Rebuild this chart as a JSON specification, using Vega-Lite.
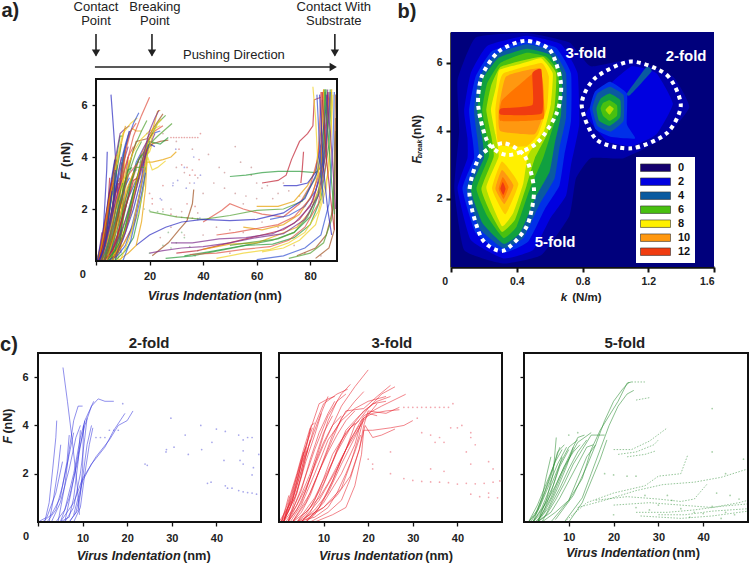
{"$schema":"https://vega.github.io/schema/vega-lite/v6.json","autosize":"none","padding":{"left":38,"top":0,"right":712,"bottom":564},"columns":3,"align":"each","bounds":"flush","spacing":0,"background":"white","resolve":{"scale":{"color":"independent"},"legend":{"color":"independent"}},
"config":{"view":{"stroke":null},"text":{"font":"Liberation Sans","color":"#222"},"axis":{"labelFont":"Liberation Sans","labelFontWeight":"bold","labelColor":"#222","labelFontSize":11,"grid":false,"domain":false,"tickColor":"#111","tickSize":4,"tickWidth":1.3,"labelPadding":4}},
"datasets":{
"d2":[{"c":"t1","x":5.6,"y":6.4},{"c":"t1","x":6.6,"y":5},{"c":"t1","x":7.6,"y":3.5},{"c":"t1","x":8.8,"y":1.5},{"c":"t1","x":9.3,"y":0.3},
{"c":"t2","x":1.5,"y":0},{"c":"t2","x":2.5,"y":0.8},{"c":"t2","x":3.3,"y":2.2},{"c":"t2","x":4,"y":3.5},{"c":"t2","x":4.2,"y":4.2},
{"c":"t3","x":2.5,"y":0},{"c":"t3","x":3.5,"y":1},{"c":"t3","x":4.5,"y":2.2},{"c":"t3","x":5.1,"y":3.2},
{"c":"t4","x":4.5,"y":0},{"c":"t4","x":6,"y":1.5},{"c":"t4","x":7,"y":3},{"c":"t4","x":8,"y":4.2},{"c":"t4","x":9,"y":4.8},{"c":"t4","x":10,"y":4.8},
{"c":"t5","x":6,"y":0},{"c":"t5","x":7.5,"y":1.3},{"c":"t5","x":9,"y":2.8},{"c":"t5","x":10.5,"y":4},{"c":"t5","x":12,"y":4.8},{"c":"t5","x":13.5,"y":5.1},{"c":"t5","x":15,"y":5},{"c":"t5","x":17,"y":5},
{"c":"t6","x":5,"y":0},{"c":"t6","x":7,"y":1},{"c":"t6","x":9,"y":2.6},{"c":"t6","x":10.5,"y":4.2},{"c":"t6","x":12.5,"y":5},
{"c":"t7","x":5,"y":0},{"c":"t7","x":8,"y":0.8},{"c":"t7","x":10,"y":1.8},{"c":"t7","x":13,"y":2.7},{"c":"t7","x":16,"y":3.4},{"c":"t7","x":18,"y":4},{"c":"t7","x":20,"y":4.2},{"c":"t7","x":21.3,"y":4.6},
{"c":"t8","x":8,"y":0.3},{"c":"t8","x":10,"y":1.7},{"c":"t8","x":12,"y":2.4},{"c":"t8","x":15,"y":3.1},{"c":"t8","x":17,"y":3.8},{"c":"t8","x":19.5,"y":4.5},
{"c":"t9","x":1,"y":0},{"c":"t9","x":3,"y":0.3},{"c":"t9","x":5,"y":1},{"c":"t9","x":6.5,"y":2.5},{"c":"t9","x":7,"y":3.6},
{"c":"t10","x":3,"y":0},{"c":"t10","x":5,"y":0.8},{"c":"t10","x":7,"y":2.2},{"c":"t10","x":8.5,"y":3.5},{"c":"t10","x":9.5,"y":4},
{"c":"t11","x":4,"y":0},{"c":"t11","x":6,"y":0.5},{"c":"t11","x":8,"y":2},{"c":"t11","x":9.5,"y":3.5},{"c":"t11","x":10.5,"y":4.2},
{"c":"t12","x":6,"y":0},{"c":"t12","x":8,"y":0.6},{"c":"t12","x":9.5,"y":2},{"c":"t12","x":10.5,"y":3.5},{"c":"t12","x":11,"y":4.3},
{"c":"t13","x":7,"y":0},{"c":"t13","x":9,"y":0.5},{"c":"t13","x":10,"y":1.8},{"c":"t13","x":11,"y":3.2},{"c":"t13","x":12,"y":4},
{"c":"t14","x":8,"y":0},{"c":"t14","x":9.5,"y":0.6},{"c":"t14","x":10.5,"y":2},{"c":"t14","x":11.5,"y":3.2},{"c":"t14","x":12.3,"y":3.9},
{"c":"t15","x":2,"y":0},{"c":"t15","x":4,"y":0.5},{"c":"t15","x":5.5,"y":1.5},{"c":"t15","x":7,"y":2.8},{"c":"t15","x":8,"y":3.7},
{"c":"t16","x":0,"y":0},{"c":"t16","x":2,"y":0.2},{"c":"t16","x":4,"y":1.2},{"c":"t16","x":5.5,"y":2.5},
{"c":"t17","x":7,"y":0},{"c":"t17","x":8.5,"y":0.4},{"c":"t17","x":9.5,"y":1.2},{"c":"t17","x":10,"y":2.2},{"c":"t17","x":10.2,"y":4},
{"c":"t18","x":5,"y":0},{"c":"t18","x":7,"y":0.2},{"c":"t18","x":8,"y":1},{"c":"t18","x":9,"y":2.5},{"c":"t18","x":9.5,"y":3.8}],
"d3":[{"c":"s1","x":0,"y":0},{"c":"s1","x":3,"y":0.9},{"c":"s1","x":5,"y":2.1},{"c":"s1","x":6.5,"y":3.4},{"c":"s1","x":7.2,"y":4},{"c":"s1","x":8,"y":4.1},
{"c":"s2","x":0.5,"y":0},{"c":"s2","x":1.5,"y":0.6},{"c":"s2","x":2.2,"y":1.1},
{"c":"s3","x":0.5,"y":0},{"c":"s3","x":3,"y":1},{"c":"s3","x":4.5,"y":2},{"c":"s3","x":5.5,"y":2.9},
{"c":"s4","x":1,"y":0},{"c":"s4","x":3,"y":0.9},{"c":"s4","x":5,"y":2.4},{"c":"s4","x":7,"y":3.8},{"c":"s4","x":9,"y":4.9},{"c":"s4","x":11,"y":5.1},{"c":"s4","x":12.5,"y":5.2},
{"c":"s5","x":1,"y":0},{"c":"s5","x":4,"y":1.2},{"c":"s5","x":6,"y":2.7},{"c":"s5","x":8,"y":4},{"c":"s5","x":10,"y":4.9},{"c":"s5","x":13,"y":5.3},{"c":"s5","x":15.4,"y":5.5},
{"c":"s6","x":2,"y":0},{"c":"s6","x":5,"y":1.4},{"c":"s6","x":8,"y":3},{"c":"s6","x":11,"y":4.4},{"c":"s6","x":14,"y":5.3},{"c":"s6","x":16,"y":5.7},
{"c":"s7","x":2,"y":0},{"c":"s7","x":6,"y":1.4},{"c":"s7","x":10,"y":3.2},{"c":"s7","x":14,"y":4.8},{"c":"s7","x":17,"y":5.6},{"c":"s7","x":20,"y":6.3},
{"c":"s8","x":3,"y":0},{"c":"s8","x":7,"y":1.2},{"c":"s8","x":11,"y":3},{"c":"s8","x":14,"y":4.3},{"c":"s8","x":17,"y":5},{"c":"s8","x":19,"y":5.4},
{"c":"s9","x":3,"y":0},{"c":"s9","x":6,"y":0.8},{"c":"s9","x":9,"y":2.1},{"c":"s9","x":12,"y":3.6},{"c":"s9","x":15,"y":4.6},{"c":"s9","x":19,"y":4.7},{"c":"s9","x":22,"y":5.2},{"c":"s9","x":25,"y":5.66},
{"c":"s10","x":1.5,"y":0},{"c":"s10","x":4,"y":0.7},{"c":"s10","x":7,"y":2},{"c":"s10","x":10,"y":3.7},{"c":"s10","x":12,"y":4.4},
{"c":"s11","x":2.5,"y":0},{"c":"s11","x":5,"y":0.7},{"c":"s11","x":8,"y":2},{"c":"s11","x":11,"y":3.4},{"c":"s11","x":14,"y":4.2},{"c":"s11","x":17,"y":4.7},{"c":"s11","x":20,"y":5},{"c":"s11","x":24,"y":5.2},
{"c":"s12","x":4,"y":0},{"c":"s12","x":8,"y":1},{"c":"s12","x":12,"y":2.5},{"c":"s12","x":15,"y":3.8},{"c":"s12","x":18,"y":4.4},{"c":"s12","x":21,"y":4.9},{"c":"s12","x":24,"y":5},
{"c":"s13","x":4,"y":0},{"c":"s13","x":7,"y":0.6},{"c":"s13","x":10,"y":1.6},{"c":"s13","x":13,"y":2.9},{"c":"s13","x":16,"y":3.9},{"c":"s13","x":19,"y":4.6},{"c":"s13","x":22,"y":5},{"c":"s13","x":25,"y":5.2},
{"c":"s14","x":5,"y":0},{"c":"s14","x":9,"y":0.9},{"c":"s14","x":13,"y":2.2},{"c":"s14","x":16,"y":3.4},{"c":"s14","x":19,"y":4.4},{"c":"s14","x":23,"y":4.8},{"c":"s14","x":28.4,"y":5.29},
{"c":"s15","x":5,"y":0},{"c":"s15","x":8,"y":0.5},{"c":"s15","x":11,"y":1.2},{"c":"s15","x":14,"y":2.4},{"c":"s15","x":17,"y":3.5},{"c":"s15","x":19,"y":4.3},{"c":"s15","x":21,"y":4.5},{"c":"s15","x":24,"y":4.6},{"c":"s15","x":27,"y":4.65},
{"c":"s16","x":6,"y":0},{"c":"s16","x":10,"y":0.8},{"c":"s16","x":14,"y":2},{"c":"s16","x":17,"y":3.2},{"c":"s16","x":18.5,"y":4.2},{"c":"s16","x":20,"y":4.5},{"c":"s16","x":22,"y":4.4},
{"c":"s17","x":6,"y":0.1},{"c":"s17","x":10,"y":0.6},{"c":"s17","x":14,"y":1.4},{"c":"s17","x":16,"y":2.4},{"c":"s17","x":18,"y":3.6},{"c":"s17","x":19,"y":4.3},
{"c":"s18","x":7,"y":0},{"c":"s18","x":11,"y":0.4},{"c":"s18","x":14,"y":0.9},{"c":"s18","x":16,"y":1.8},{"c":"s18","x":18,"y":3},{"c":"s18","x":19,"y":4},{"c":"s18","x":20,"y":4.6},{"c":"s18","x":24,"y":4.5},{"c":"s18","x":27,"y":4.75},
{"c":"s19","x":8,"y":0},{"c":"s19","x":12,"y":0.3},{"c":"s19","x":15,"y":0.6},{"c":"s19","x":17,"y":1.5},{"c":"s19","x":18.5,"y":2.8},{"c":"s19","x":19,"y":3.8},{"c":"s19","x":21,"y":3.8},{"c":"s19","x":25,"y":3.9},{"c":"s19","x":28,"y":4},{"c":"s19","x":30,"y":4.2},
{"c":"s20","x":4,"y":0},{"c":"s20","x":7,"y":0.3},{"c":"s20","x":10,"y":0.6},{"c":"s20","x":13,"y":1.1},{"c":"s20","x":16,"y":1.9},{"c":"s20","x":18,"y":3},{"c":"s20","x":19.3,"y":4},{"c":"s20","x":21,"y":3.5},{"c":"s20","x":23,"y":3.6},{"c":"s20","x":26,"y":3.85},
{"c":"s21","x":1,"y":0},{"c":"s21","x":3,"y":0.5},{"c":"s21","x":5,"y":1.3},{"c":"s21","x":7,"y":2.6},{"c":"s21","x":9,"y":3.7},{"c":"s21","x":11,"y":4.5},{"c":"s21","x":12.5,"y":5},
{"c":"s22","x":2,"y":0},{"c":"s22","x":4,"y":0.5},{"c":"s22","x":6,"y":1.3},{"c":"s22","x":8,"y":2.4},{"c":"s22","x":10,"y":3.3},{"c":"s22","x":12,"y":4},{"c":"s22","x":14,"y":4.4},
{"c":"s23","x":3,"y":0},{"c":"s23","x":5,"y":0.4},{"c":"s23","x":7,"y":1.1},{"c":"s23","x":9,"y":2.1},{"c":"s23","x":11,"y":2.9},{"c":"s23","x":13,"y":3.6},{"c":"s23","x":15,"y":4.2},{"c":"s23","x":17,"y":4.6},
{"c":"s24","x":4,"y":0},{"c":"s24","x":6,"y":0.3},{"c":"s24","x":8,"y":0.9},{"c":"s24","x":10,"y":1.8},{"c":"s24","x":12,"y":2.8},{"c":"s24","x":14,"y":3.4},{"c":"s24","x":16,"y":3.9},{"c":"s24","x":18,"y":4.2},
{"c":"s25","x":0.5,"y":0},{"c":"s25","x":2,"y":0.4},{"c":"s25","x":3.5,"y":1},{"c":"s25","x":5,"y":1.9},{"c":"s25","x":6,"y":2.7},{"c":"s25","x":7,"y":3.4},
{"c":"s26","x":1,"y":0},{"c":"s26","x":2.5,"y":0.6},{"c":"s26","x":4,"y":1.5},{"c":"s26","x":5.5,"y":2.5},{"c":"s26","x":6.5,"y":3},
{"c":"s27","x":5,"y":0},{"c":"s27","x":7,"y":0.4},{"c":"s27","x":9,"y":1.1},{"c":"s27","x":11,"y":2},{"c":"s27","x":13,"y":3},{"c":"s27","x":15,"y":3.7},{"c":"s27","x":17,"y":4.1},
{"c":"s28","x":6,"y":0},{"c":"s28","x":8,"y":0.3},{"c":"s28","x":10,"y":0.9},{"c":"s28","x":12,"y":1.7},{"c":"s28","x":14,"y":2.6},{"c":"s28","x":16,"y":3.4},{"c":"s28","x":18,"y":4},
{"c":"s29","x":3,"y":0},{"c":"s29","x":6,"y":0.4},{"c":"s29","x":9,"y":1},{"c":"s29","x":11,"y":1.6},{"c":"s29","x":13,"y":2.3},{"c":"s29","x":15,"y":3},{"c":"s29","x":17,"y":3.6},{"c":"s29","x":19,"y":4.2},{"c":"s29","x":22,"y":4.9},
{"c":"s30","x":4,"y":0},{"c":"s30","x":8,"y":0.2},{"c":"s30","x":11,"y":0.6},{"c":"s30","x":13,"y":1.2},{"c":"s30","x":15,"y":2},{"c":"s30","x":17,"y":2.9},{"c":"s30","x":18.3,"y":3.6},
{"c":"s31","x":2,"y":0},{"c":"s31","x":5,"y":0.8},{"c":"s31","x":7,"y":1.8},{"c":"s31","x":9,"y":3},{"c":"s31","x":11,"y":4.2},{"c":"s31","x":13,"y":5},{"c":"s31","x":15,"y":5.3},
{"c":"s32","x":6,"y":0},{"c":"s32","x":9,"y":0.6},{"c":"s32","x":12,"y":1.7},{"c":"s32","x":15,"y":3},{"c":"s32","x":17,"y":4},{"c":"s32","x":20,"y":4.7},{"c":"s32","x":23,"y":5.3},{"c":"s32","x":26,"y":5.6},
{"c":"s33","x":1,"y":0},{"c":"s33","x":3,"y":1.2},{"c":"s33","x":5,"y":2.6},{"c":"s33","x":6.5,"y":3.4},{"c":"s33","x":7.5,"y":3.9},
{"c":"s34","x":0.5,"y":0},{"c":"s34","x":2,"y":0.8},{"c":"s34","x":4,"y":2},{"c":"s34","x":5.5,"y":3},{"c":"s34","x":7,"y":3.9},
{"c":"s35","x":1,"y":0},{"c":"s35","x":2.5,"y":1},{"c":"s35","x":4,"y":1.9},{"c":"s35","x":6,"y":3.1},
{"c":"s36","x":2,"y":0},{"c":"s36","x":4,"y":1.2},{"c":"s36","x":6,"y":2.5},{"c":"s36","x":8,"y":3.6},{"c":"s36","x":9.5,"y":4.5},
{"c":"s37","x":1,"y":0},{"c":"s37","x":3,"y":1.1},{"c":"s37","x":5,"y":2.4},{"c":"s37","x":7,"y":3.3},{"c":"s37","x":9,"y":4.3},{"c":"s37","x":11,"y":5.2}],
"d5":[{"c":"f1","x":3,"y":0},{"c":"f1","x":5,"y":0.9},{"c":"f1","x":6.5,"y":2},{"c":"f1","x":7.2,"y":3.5},
{"c":"f2","x":1,"y":0},{"c":"f2","x":3,"y":0.7},{"c":"f2","x":5,"y":1.6},{"c":"f2","x":7,"y":2.5},{"c":"f2","x":8.5,"y":3},
{"c":"f3","x":1.5,"y":0},{"c":"f3","x":3.5,"y":0.6},{"c":"f3","x":5.5,"y":1.5},{"c":"f3","x":7.5,"y":2.4},{"c":"f3","x":9.5,"y":3.1},
{"c":"f4","x":2,"y":0},{"c":"f4","x":4,"y":0.6},{"c":"f4","x":6,"y":1.5},{"c":"f4","x":8,"y":2.4},{"c":"f4","x":10,"y":3.1},{"c":"f4","x":12,"y":3.4},
{"c":"f5","x":2,"y":0},{"c":"f5","x":5,"y":0.8},{"c":"f5","x":7,"y":1.5},{"c":"f5","x":9,"y":2.3},{"c":"f5","x":11,"y":2.9},{"c":"f5","x":12.5,"y":3.2},
{"c":"f6","x":2.5,"y":0},{"c":"f6","x":4.5,"y":0.4},{"c":"f6","x":6.5,"y":1.1},{"c":"f6","x":8.5,"y":2},{"c":"f6","x":10.5,"y":2.8},{"c":"f6","x":12,"y":3.3},{"c":"f6","x":15,"y":3.7},
{"c":"f7","x":3,"y":0},{"c":"f7","x":5,"y":0.3},{"c":"f7","x":7,"y":0.9},{"c":"f7","x":9,"y":1.6},{"c":"f7","x":11,"y":2.4},{"c":"f7","x":13,"y":3},{"c":"f7","x":15,"y":3.6},{"c":"f7","x":18,"y":3.6},
{"c":"f8","x":3,"y":0},{"c":"f8","x":5.5,"y":0.6},{"c":"f8","x":7.5,"y":1.4},{"c":"f8","x":9.5,"y":2.3},{"c":"f8","x":11,"y":3.1},
{"c":"f9","x":1,"y":0},{"c":"f9","x":2.5,"y":0.3},{"c":"f9","x":4,"y":1},{"c":"f9","x":5,"y":1.9},{"c":"f9","x":6,"y":2.7},
{"c":"f10","x":3,"y":0},{"c":"f10","x":6,"y":0.4},{"c":"f10","x":8,"y":1},{"c":"f10","x":10,"y":1.7},{"c":"f10","x":12,"y":2.4},{"c":"f10","x":14,"y":3.1},{"c":"f10","x":15.5,"y":3.2},
{"c":"f11","x":4,"y":0},{"c":"f11","x":7,"y":0.4},{"c":"f11","x":10,"y":0.9},{"c":"f11","x":12,"y":1.8},{"c":"f11","x":14,"y":2.7},{"c":"f11","x":16,"y":3.2},
{"c":"f12","x":6,"y":0},{"c":"f12","x":10,"y":0.9},{"c":"f12","x":13,"y":1.8},{"c":"f12","x":15,"y":3},{"c":"f12","x":17,"y":3.8},{"c":"f12","x":19,"y":4.4},{"c":"f12","x":21,"y":5},{"c":"f12","x":23,"y":5.75},{"c":"f12","x":24,"y":5.8},
{"c":"f13","x":7,"y":0.1},{"c":"f13","x":11,"y":1.1},{"c":"f13","x":14,"y":2.3},{"c":"f13","x":16,"y":3.2},{"c":"f13","x":18,"y":4.2},{"c":"f13","x":20,"y":5},{"c":"f13","x":22,"y":5.5},{"c":"f13","x":23.5,"y":5.8},
{"c":"f14","x":9,"y":0},{"c":"f14","x":13,"y":1},{"c":"f14","x":15,"y":2},{"c":"f14","x":17,"y":3},{"c":"f14","x":19,"y":4},{"c":"f14","x":21,"y":4.8},{"c":"f14","x":23,"y":5.3},{"c":"f14","x":24.5,"y":5.45},
{"c":"f15","x":10,"y":0},{"c":"f15","x":13,"y":0.8},{"c":"f15","x":15,"y":1.7},{"c":"f15","x":17,"y":2.6},{"c":"f15","x":18.5,"y":3.4},
{"c":"f16","x":3,"y":0},{"c":"f16","x":4.5,"y":0.5},{"c":"f16","x":6,"y":1.2},{"c":"f16","x":7.5,"y":2.1},{"c":"f16","x":8.5,"y":2.7},
{"c":"f17","x":2,"y":0},{"c":"f17","x":3.5,"y":0.3},{"c":"f17","x":5,"y":0.9},{"c":"f17","x":6.5,"y":1.5},{"c":"f17","x":8,"y":2.3},{"c":"f17","x":10,"y":3},
{"c":"f18","x":2,"y":0},{"c":"f18","x":4,"y":0.9},{"c":"f18","x":6,"y":1.9},{"c":"f18","x":7.5,"y":2.9},{"c":"f18","x":9,"y":3.2},
{"c":"f19","x":1,"y":0},{"c":"f19","x":3,"y":0.5},{"c":"f19","x":4.5,"y":1.2},{"c":"f19","x":6,"y":2},{"c":"f19","x":8,"y":3.1},
{"c":"f20","x":3,"y":0},{"c":"f20","x":6,"y":1},{"c":"f20","x":8,"y":1.9},{"c":"f20","x":10,"y":2.7},{"c":"f20","x":12,"y":3.5},{"c":"f20","x":13.5,"y":3.6},
{"c":"f21","x":4,"y":0},{"c":"f21","x":6,"y":0.7},{"c":"f21","x":8,"y":1.4},{"c":"f21","x":10,"y":2.2},{"c":"f21","x":12,"y":2.9},{"c":"f21","x":14,"y":3.4}],
"d5b":[{"c":"l1","x":9,"y":0},{"c":"l1","x":14,"y":0.8},{"c":"l1","x":20,"y":1.2},{"c":"l1","x":27,"y":1.5},{"c":"l1","x":30,"y":1.9},{"c":"l1","x":35,"y":2},{"c":"l1","x":36.5,"y":2.75},
{"c":"l2","x":12,"y":0.6},{"c":"l2","x":18,"y":0.9},{"c":"l2","x":25,"y":1.3},{"c":"l2","x":31,"y":1.55},{"c":"l2","x":38,"y":1.65},{"c":"l2","x":44,"y":1.85},{"c":"l2","x":50,"y":2.2},
{"c":"l3","x":16,"y":0.9},{"c":"l3","x":23,"y":1.05},{"c":"l3","x":30,"y":0.95},{"c":"l3","x":35,"y":0.85},{"c":"l3","x":38,"y":0.95},{"c":"l3","x":41,"y":1.6},
{"c":"l4","x":20,"y":0.7},{"c":"l4","x":28,"y":0.8},{"c":"l4","x":35,"y":0.7},{"c":"l4","x":42,"y":0.6},{"c":"l4","x":48,"y":0.8},{"c":"l4","x":50,"y":0.9},
{"c":"l5","x":25,"y":0.4},{"c":"l5","x":32,"y":0.4},{"c":"l5","x":38,"y":0.5},{"c":"l5","x":44,"y":0.65},{"c":"l5","x":50,"y":0.75},
{"c":"l6","x":30,"y":0.3},{"c":"l6","x":36,"y":0.3},{"c":"l6","x":42,"y":0.45},{"c":"l6","x":50,"y":0.55},
{"c":"l7","x":26,"y":0.25},{"c":"l7","x":35,"y":0.15},{"c":"l7","x":42,"y":0.25},{"c":"l7","x":50,"y":0.45},
{"c":"u1","x":20,"y":3},{"c":"u1","x":24,"y":3},{"c":"u1","x":28,"y":3.35},{"c":"u1","x":32,"y":3.9},
{"c":"u2","x":21,"y":2.8},{"c":"u2","x":25,"y":2.9},{"c":"u2","x":29,"y":3.2},{"c":"u2","x":30,"y":3.4},
{"c":"u3","x":23,"y":2.7},{"c":"u3","x":27,"y":2.8},{"c":"u3","x":29.5,"y":2.95},
{"c":"u4","x":24,"y":5.8},{"c":"u4","x":27,"y":5.8},
{"c":"u5","x":25,"y":5.05},{"c":"u5","x":28,"y":5.15}],
"r":[{"c":"r1","x":62,"y":3},{"c":"r1","x":68,"y":3.1},{"c":"r1","x":71,"y":3.3},{"c":"r1","x":73,"y":3.9},{"c":"r1","x":76,"y":4.6},{"c":"r1","x":79,"y":4.9},{"c":"r1","x":81,"y":5.2},{"c":"r1","x":81.5,"y":6.2},{"c":"r1","x":84,"y":6.3},
{"c":"r2","x":50,"y":3.25},{"c":"r2","x":56,"y":3.3},{"c":"r2","x":62,"y":3.4},{"c":"r2","x":68,"y":3.45},{"c":"r2","x":76,"y":3.45},{"c":"r2","x":82,"y":3.4},{"c":"r2","x":84,"y":3.6},{"c":"r2","x":85,"y":5},{"c":"r2","x":85.5,"y":6.6},
{"c":"r3","x":60,"y":2.1},{"c":"r3","x":68,"y":2.1},{"c":"r3","x":74,"y":2.3},{"c":"r3","x":79,"y":2.9},{"c":"r3","x":82,"y":3.5},{"c":"r3","x":84,"y":5},{"c":"r3","x":85,"y":6.6},
{"c":"r4","x":40,"y":1.5},{"c":"r4","x":47,"y":1.95},{"c":"r4","x":50,"y":2.2},{"c":"r4","x":55,"y":2},{"c":"r4","x":62,"y":1.8},{"c":"r4","x":70,"y":1.7},{"c":"r4","x":76,"y":2.2},{"c":"r4","x":80,"y":2.9},{"c":"r4","x":83,"y":4},{"c":"r4","x":84,"y":6.5},
{"c":"r5","x":20,"y":1.9},{"c":"r5","x":30,"y":1.7},{"c":"r5","x":40,"y":1.6},{"c":"r5","x":50,"y":1.75},{"c":"r5","x":60,"y":1.95},{"c":"r5","x":70,"y":2},{"c":"r5","x":77,"y":2.3},{"c":"r5","x":82,"y":3.2},{"c":"r5","x":85,"y":4.5},{"c":"r5","x":86,"y":6.6},
{"c":"r6","x":21,"y":0.2},{"c":"r6","x":27,"y":0.7},{"c":"r6","x":31,"y":1.2},{"c":"r6","x":34,"y":1.55},{"c":"r6","x":36,"y":2.2},{"c":"r6","x":36.5,"y":2.75},
{"c":"r7","x":15,"y":0.6},{"c":"r7","x":20,"y":1},{"c":"r7","x":26,"y":1.3},{"c":"r7","x":32,"y":1.5},{"c":"r7","x":40,"y":1.6},{"c":"r7","x":50,"y":1.55},{"c":"r7","x":60,"y":1.6},{"c":"r7","x":70,"y":1.85},{"c":"r7","x":78,"y":2.4},{"c":"r7","x":83,"y":3.5},{"c":"r7","x":86.5,"y":6.4},
{"c":"r8","x":30,"y":0.3},{"c":"r8","x":38,"y":0.4},{"c":"r8","x":46,"y":0.6},{"c":"r8","x":54,"y":0.8},{"c":"r8","x":62,"y":1},{"c":"r8","x":70,"y":1.2},{"c":"r8","x":76,"y":1.6},{"c":"r8","x":81,"y":2.3},{"c":"r8","x":85,"y":3.8},{"c":"r8","x":87,"y":6.5},
{"c":"r9","x":33,"y":0.2},{"c":"r9","x":42,"y":0.35},{"c":"r9","x":50,"y":0.5},{"c":"r9","x":58,"y":0.65},{"c":"r9","x":66,"y":0.8},{"c":"r9","x":74,"y":1.1},{"c":"r9","x":80,"y":1.7},{"c":"r9","x":84,"y":2.8},{"c":"r9","x":86,"y":4.5},{"c":"r9","x":87.5,"y":6.6},
{"c":"r10","x":26,"y":0.1},{"c":"r10","x":36,"y":0.2},{"c":"r10","x":46,"y":0.4},{"c":"r10","x":56,"y":0.6},{"c":"r10","x":66,"y":0.65},{"c":"r10","x":74,"y":0.9},{"c":"r10","x":80,"y":1.4},{"c":"r10","x":84,"y":2.4},{"c":"r10","x":87,"y":4.5},{"c":"r10","x":88,"y":6.5},
{"c":"r11","x":40,"y":0.45},{"c":"r11","x":50,"y":0.65},{"c":"r11","x":60,"y":0.7},{"c":"r11","x":68,"y":1},{"c":"r11","x":75,"y":1.3},{"c":"r11","x":80,"y":1.9},{"c":"r11","x":84,"y":3},{"c":"r11","x":87,"y":5.5},{"c":"r11","x":88,"y":6.6},
{"c":"r12","x":28,"y":0.7},{"c":"r12","x":36,"y":0.7},{"c":"r12","x":46,"y":0.85},{"c":"r12","x":56,"y":0.9},{"c":"r12","x":66,"y":1.05},{"c":"r12","x":74,"y":1.45},{"c":"r12","x":80,"y":2.1},{"c":"r12","x":84,"y":3.3},{"c":"r12","x":86,"y":5.5},{"c":"r12","x":86.5,"y":6.5},
{"c":"r13","x":45,"y":0.1},{"c":"r13","x":55,"y":0.3},{"c":"r13","x":65,"y":0.45},{"c":"r13","x":72,"y":0.7},{"c":"r13","x":78,"y":1.1},{"c":"r13","x":83,"y":1.9},{"c":"r13","x":87,"y":3.5},{"c":"r13","x":88.5,"y":6.4},
{"c":"r14","x":60,"y":0.05},{"c":"r14","x":70,"y":0.2},{"c":"r14","x":78,"y":0.5},{"c":"r14","x":84,"y":1},{"c":"r14","x":87,"y":2.2},{"c":"r14","x":88.5,"y":4.5},{"c":"r14","x":89,"y":6.5},
{"c":"r15","x":35,"y":0.25},{"c":"r15","x":45,"y":0.3},{"c":"r15","x":55,"y":0.45},{"c":"r15","x":65,"y":0.55},{"c":"r15","x":72,"y":0.8},{"c":"r15","x":78,"y":1.3},{"c":"r15","x":83,"y":2.2},{"c":"r15","x":86,"y":3.8},{"c":"r15","x":87,"y":6.3},
{"c":"r16","x":50,"y":0.6},{"c":"r16","x":60,"y":0.75},{"c":"r16","x":68,"y":0.85},{"c":"r16","x":74,"y":1.1},{"c":"r16","x":79,"y":1.7},{"c":"r16","x":83,"y":2.6},{"c":"r16","x":85.2,"y":4.3},{"c":"r16","x":85.5,"y":6.5},
{"c":"r17","x":75,"y":0.2},{"c":"r17","x":82,"y":0.5},{"c":"r17","x":86,"y":1},{"c":"r17","x":88.5,"y":2},{"c":"r17","x":89,"y":4},{"c":"r17","x":89.5,"y":6.4},
{"c":"r18","x":70,"y":2.9},{"c":"r18","x":75,"y":2.9},{"c":"r18","x":79,"y":3},{"c":"r18","x":82,"y":3.4},{"c":"r18","x":84,"y":4.5},{"c":"r18","x":84.5,"y":6.2},
{"c":"r19","x":76.5,"y":3},{"c":"r19","x":77,"y":3.5},{"c":"r19","x":77.5,"y":4.2},
{"c":"r20","x":55,"y":1.3},{"c":"r20","x":62,"y":1.2},{"c":"r20","x":70,"y":1.4},{"c":"r20","x":76,"y":1.8},{"c":"r20","x":81,"y":2.6},{"c":"r20","x":84,"y":3.8},{"c":"r20","x":85,"y":6.6},
{"c":"r21","x":20,"y":0.3},{"c":"r21","x":25,"y":0.4},{"c":"r21","x":32,"y":0.5},{"c":"r21","x":40,"y":0.55},{"c":"r21","x":50,"y":0.7},{"c":"r21","x":60,"y":0.9},{"c":"r21","x":70,"y":1.05},{"c":"r21","x":78,"y":1.6},{"c":"r21","x":83,"y":2.5},{"c":"r21","x":86,"y":4.2},{"c":"r21","x":86.5,"y":6.6},
{"c":"r22","x":62,"y":0.35},{"c":"r22","x":70,"y":0.5},{"c":"r22","x":76,"y":0.8},{"c":"r22","x":82,"y":1.4},{"c":"r22","x":86,"y":2.8},{"c":"r22","x":87.8,"y":5},{"c":"r22","x":88,"y":6.6},
{"c":"r23","x":65,"y":1.6},{"c":"r23","x":72,"y":1.75},{"c":"r23","x":78,"y":2.1},{"c":"r23","x":82,"y":2.7},{"c":"r23","x":85,"y":3.9},{"c":"r23","x":87,"y":5.5},{"c":"r23","x":87.5,"y":6.5},
{"c":"r24","x":45,"y":1},{"c":"r24","x":52,"y":1.1},{"c":"r24","x":60,"y":1.25},{"c":"r24","x":68,"y":1.4},{"c":"r24","x":74,"y":1.7},{"c":"r24","x":80,"y":2.4},{"c":"r24","x":84,"y":3.5},{"c":"r24","x":84.3,"y":6.5},
{"c":"r25","x":72,"y":0.1},{"c":"r25","x":80,"y":0.3},{"c":"r25","x":85,"y":0.7},{"c":"r25","x":88,"y":1.6},{"c":"r25","x":89,"y":3},{"c":"r25","x":89.5,"y":5},
{"c":"r26","x":82,"y":0.1},{"c":"r26","x":87,"y":0.5},{"c":"r26","x":89,"y":1.2},{"c":"r26","x":89.3,"y":3},{"c":"r26","x":89.5,"y":5.5},
{"c":"r27","x":83.5,"y":6.4},{"c":"r27","x":85,"y":3.5},{"c":"r27","x":86.5,"y":2},{"c":"r27","x":88,"y":1},
{"c":"r28","x":84.5,"y":6.5},{"c":"r28","x":86,"y":4},{"c":"r28","x":87.5,"y":2.5},{"c":"r28","x":89,"y":1.2},
{"c":"r29","x":85.5,"y":6.6},{"c":"r29","x":87,"y":4.5},{"c":"r29","x":88,"y":3},{"c":"r29","x":89,"y":1.8},
{"c":"r30","x":86,"y":6.4},{"c":"r30","x":87.5,"y":5},{"c":"r30","x":88.5,"y":3.5},{"c":"r30","x":89.5,"y":2},
{"c":"r31","x":81,"y":6.7},{"c":"r31","x":82,"y":5.5},{"c":"r31","x":83,"y":3.5},{"c":"r31","x":84,"y":2.4},
{"c":"r32","x":82.5,"y":6.4},{"c":"r32","x":83.2,"y":5},{"c":"r32","x":84,"y":3.5},{"c":"r32","x":85,"y":2.2}],
"p2":[{"x":13,"y":3.5},{"x":14,"y":3.5},{"x":15,"y":3.5},{"x":16,"y":3.8},{"x":17,"y":3.8},{"x":18,"y":3.8},{"x":19,"y":4.9},{"x":24,"y":2.4},{"x":24.5,"y":2.35},{"x":28.7,"y":2.9},{"x":28.8,"y":3},{"x":29.8,"y":4.3},{"x":30.5,"y":3.1},{"x":33,"y":3.6},{"x":33.7,"y":2.8},{"x":36.5,"y":4},{"x":36.7,"y":3},{"x":38,"y":1.6},{"x":38.8,"y":1.65},{"x":39,"y":3.3},{"x":40,"y":3.85},{"x":42,"y":3.75},{"x":41.7,"y":2.55},{"x":42,"y":1.5},{"x":42.5,"y":1.4},{"x":43.5,"y":1.4},{"x":45,"y":1.3},{"x":46,"y":1.25},{"x":47,"y":1.22},{"x":48,"y":1.2},{"x":49,"y":1.15},{"x":45,"y":3.6},{"x":46,"y":3.4},{"x":47,"y":3.5},{"x":48,"y":3.5},{"x":45.3,"y":2.55},{"x":46,"y":2.4},{"x":48,"y":1.95},{"x":48.3,"y":2.25},{"x":49.5,"y":2.8},{"x":46,"y":2.95}],
"p3":[{"x":28,"y":4.75},{"x":29,"y":4.75},{"x":30,"y":4.75},{"x":31,"y":4.75},{"x":32,"y":4.75},{"x":33,"y":4.75},{"x":34,"y":4.75},{"x":35,"y":4.75},{"x":36,"y":4.75},{"x":37,"y":4.75},{"x":38,"y":4.75},{"x":28,"y":1.8},{"x":30,"y":1.72},{"x":32,"y":1.68},{"x":34,"y":1.66},{"x":36,"y":1.65},{"x":38,"y":1.63},{"x":40,"y":1.57},{"x":42,"y":1.6},{"x":44,"y":1.58},{"x":46,"y":1.6},{"x":48,"y":1.65},{"x":49.5,"y":1.7},{"x":43,"y":1.15},{"x":45,"y":1.05},{"x":47,"y":1.02},{"x":49,"y":1},{"x":31,"y":4.3},{"x":32,"y":3.7},{"x":34,"y":3.6},{"x":36,"y":3.5},{"x":35,"y":3.3},{"x":37,"y":3.3},{"x":39,"y":4.9},{"x":38.5,"y":3.9},{"x":40,"y":3.9},{"x":41,"y":4},{"x":43,"y":3.7},{"x":43,"y":3.5},{"x":44,"y":3.2},{"x":42,"y":2.9},{"x":43,"y":2.4},{"x":47,"y":2.5},{"x":48,"y":2.2},{"x":47,"y":1.2},{"x":34,"y":2.2},{"x":37,"y":2.1},{"x":25,"y":2.9},{"x":25,"y":2},{"x":21,"y":2.4},{"x":21,"y":2.2},{"x":20,"y":2.6}],
"p5":[{"x":10,"y":3.6},{"x":12,"y":3.7},{"x":18,"y":2},{"x":20,"y":1.95},{"x":23,"y":1.9},{"x":25,"y":1.9},{"x":28,"y":0.5},{"x":30,"y":0.7},{"x":33,"y":0.9},{"x":35,"y":0.55},{"x":38,"y":0.4},{"x":40,"y":0.35},{"x":42,"y":0.65},{"x":45,"y":0.4},{"x":47,"y":0.3},{"x":48,"y":0.95},{"x":43,"y":1.2},{"x":46,"y":1.1},{"x":42,"y":2.9},{"x":42,"y":4.7},{"x":49,"y":2.6},{"x":45,"y":2},{"x":20,"y":0.3},{"x":25,"y":0.6},{"x":27,"y":1.1},{"x":32,"y":1.1},{"x":37,"y":0.2},{"x":44,"y":0.15}],
"pa":[{"x":25,"y":4.9},{"x":30,"y":4.6},{"x":36,"y":4.3},{"x":42,"y":4.1},{"x":46,"y":3.6},{"x":52,"y":4.4},{"x":54,"y":3.8},{"x":58,"y":3.3},{"x":60,"y":3},{"x":64,"y":2.9},{"x":68,"y":2.6},{"x":72,"y":2.7},{"x":76,"y":2.5},{"x":44,"y":3},{"x":48,"y":2.8},{"x":52,"y":2.6},{"x":56,"y":2.5},{"x":60,"y":2.4},{"x":66,"y":2.4},{"x":40,"y":2.6},{"x":35,"y":3},{"x":30,"y":3.6},{"x":33,"y":3.4},{"x":38,"y":3.2},{"x":28,"y":2},{"x":32,"y":1.9},{"x":38,"y":1.85},{"x":45,"y":1.3},{"x":50,"y":1.2},{"x":55,"y":1.1},{"x":62,"y":1.5},{"x":68,"y":1.3},{"x":74,"y":0.6},{"x":78,"y":0.3},{"x":84,"y":0.2},{"x":55,"y":2.2},{"x":62,"y":2.8},{"x":70,"y":3},{"x":48,"y":3.4},{"x":58,"y":3.6},{"x":24,"y":0.9},{"x":28,"y":1.3},{"x":33,"y":1},{"x":40,"y":1},{"x":50,"y":0.3}],
"ct":[{"p":1,"l":1,"o":1,"x":0.15,"y":6.75},{"p":1,"l":1,"o":2,"x":0.46,"y":6.88},{"p":1,"l":1,"o":3,"x":0.72,"y":6.6},{"p":1,"l":1,"o":4,"x":0.85,"y":5.9},{"p":1,"l":1,"o":5,"x":1.1,"y":6.1},{"p":1,"l":1,"o":6,"x":1.35,"y":5.6},{"p":1,"l":1,"o":7,"x":1.45,"y":4.7},{"p":1,"l":1,"o":8,"x":1.3,"y":3.8},{"p":1,"l":1,"o":9,"x":1.05,"y":3.2},{"p":1,"l":1,"o":10,"x":0.85,"y":3.2},{"p":1,"l":1,"o":11,"x":0.76,"y":2.6},{"p":1,"l":1,"o":12,"x":0.72,"y":1.5},{"p":1,"l":1,"o":13,"x":0.55,"y":0.35},{"p":1,"l":1,"o":14,"x":0.32,"y":0.1},{"p":1,"l":1,"o":15,"x":0.08,"y":0.5},{"p":1,"l":1,"o":16,"x":0.02,"y":2.3},{"p":1,"l":1,"o":17,"x":0.05,"y":4},{"p":1,"l":1,"o":18,"x":0.04,"y":5.5},
{"p":2,"l":2,"o":1,"x":0.22,"y":6.5},{"p":2,"l":2,"o":2,"x":0.46,"y":6.8},{"p":2,"l":2,"o":3,"x":0.67,"y":6.55},{"p":2,"l":2,"o":4,"x":0.77,"y":5.7},{"p":2,"l":2,"o":5,"x":0.78,"y":4.2},{"p":2,"l":2,"o":6,"x":0.73,"y":3},{"p":2,"l":2,"o":7,"x":0.7,"y":2.1},{"p":2,"l":2,"o":8,"x":0.6,"y":1.4},{"p":2,"l":2,"o":9,"x":0.5,"y":0.5},{"p":2,"l":2,"o":10,"x":0.32,"y":0.25},{"p":2,"l":2,"o":11,"x":0.12,"y":0.8},{"p":2,"l":2,"o":12,"x":0.04,"y":2.3},{"p":2,"l":2,"o":13,"x":0.1,"y":3.2},{"p":2,"l":2,"o":14,"x":0.1,"y":3.8},{"p":2,"l":2,"o":15,"x":0.08,"y":4.6},{"p":2,"l":2,"o":16,"x":0.12,"y":5.7},
{"p":3,"l":2,"o":1,"x":0.95,"y":5.3},{"p":3,"l":2,"o":2,"x":1.1,"y":5.9},{"p":3,"l":2,"o":3,"x":1.25,"y":5.7},{"p":3,"l":2,"o":4,"x":1.35,"y":4.8},{"p":3,"l":2,"o":5,"x":1.25,"y":3.9},{"p":3,"l":2,"o":6,"x":1.1,"y":3.55},{"p":3,"l":2,"o":7,"x":0.95,"y":3.7},{"p":3,"l":2,"o":8,"x":0.82,"y":4.5},
{"p":4,"l":3,"o":1,"x":0.25,"y":6.35},{"p":4,"l":3,"o":2,"x":0.46,"y":6.66},{"p":4,"l":3,"o":3,"x":0.64,"y":6.45},{"p":4,"l":3,"o":4,"x":0.73,"y":5.7},{"p":4,"l":3,"o":5,"x":0.73,"y":4.3},{"p":4,"l":3,"o":6,"x":0.69,"y":3.3},{"p":4,"l":3,"o":7,"x":0.66,"y":2.4},{"p":4,"l":3,"o":8,"x":0.57,"y":1.7},{"p":4,"l":3,"o":9,"x":0.47,"y":0.75},{"p":4,"l":3,"o":10,"x":0.32,"y":0.42},{"p":4,"l":3,"o":11,"x":0.15,"y":1},{"p":4,"l":3,"o":12,"x":0.07,"y":2.3},{"p":4,"l":3,"o":13,"x":0.14,"y":3.2},{"p":4,"l":3,"o":14,"x":0.13,"y":3.8},{"p":4,"l":3,"o":15,"x":0.11,"y":4.6},{"p":4,"l":3,"o":16,"x":0.15,"y":5.6},
{"p":5,"l":4,"o":1,"x":0.27,"y":6.25},{"p":5,"l":4,"o":2,"x":0.46,"y":6.55},{"p":5,"l":4,"o":3,"x":0.62,"y":6.35},{"p":5,"l":4,"o":4,"x":0.7,"y":5.7},{"p":5,"l":4,"o":5,"x":0.7,"y":4.4},{"p":5,"l":4,"o":6,"x":0.66,"y":3.5},{"p":5,"l":4,"o":7,"x":0.63,"y":2.6},{"p":5,"l":4,"o":8,"x":0.54,"y":1.85},{"p":5,"l":4,"o":9,"x":0.44,"y":0.85},{"p":5,"l":4,"o":10,"x":0.32,"y":0.55},{"p":5,"l":4,"o":11,"x":0.17,"y":1.15},{"p":5,"l":4,"o":12,"x":0.095,"y":2.3},{"p":5,"l":4,"o":13,"x":0.17,"y":3.2},{"p":5,"l":4,"o":14,"x":0.16,"y":3.8},{"p":5,"l":4,"o":15,"x":0.14,"y":4.6},{"p":5,"l":4,"o":16,"x":0.17,"y":5.55},
{"p":6,"l":5,"o":1,"x":0.29,"y":6.15},{"p":6,"l":5,"o":2,"x":0.46,"y":6.42},{"p":6,"l":5,"o":3,"x":0.6,"y":6.25},{"p":6,"l":5,"o":4,"x":0.675,"y":5.7},{"p":6,"l":5,"o":5,"x":0.67,"y":4.5},{"p":6,"l":5,"o":6,"x":0.63,"y":3.6},{"p":6,"l":5,"o":7,"x":0.6,"y":2.8},{"p":6,"l":5,"o":8,"x":0.52,"y":2.1},{"p":6,"l":5,"o":9,"x":0.42,"y":1},{"p":6,"l":5,"o":10,"x":0.32,"y":0.68},{"p":6,"l":5,"o":11,"x":0.19,"y":1.3},{"p":6,"l":5,"o":12,"x":0.12,"y":2.3},{"p":6,"l":5,"o":13,"x":0.2,"y":3.2},{"p":6,"l":5,"o":14,"x":0.19,"y":3.8},{"p":6,"l":5,"o":15,"x":0.16,"y":4.6},{"p":6,"l":5,"o":16,"x":0.19,"y":5.5},
{"p":7,"l":6,"o":1,"x":0.3,"y":6},{"p":7,"l":6,"o":2,"x":0.46,"y":6.3},{"p":7,"l":6,"o":3,"x":0.58,"y":6.18},{"p":7,"l":6,"o":4,"x":0.655,"y":5.7},{"p":7,"l":6,"o":5,"x":0.65,"y":4.6},{"p":7,"l":6,"o":6,"x":0.6,"y":3.8},{"p":7,"l":6,"o":7,"x":0.56,"y":3.2},{"p":7,"l":6,"o":8,"x":0.48,"y":2.3},{"p":7,"l":6,"o":9,"x":0.4,"y":1.2},{"p":7,"l":6,"o":10,"x":0.32,"y":0.85},{"p":7,"l":6,"o":11,"x":0.22,"y":1.5},{"p":7,"l":6,"o":12,"x":0.155,"y":2.3},{"p":7,"l":6,"o":13,"x":0.23,"y":3.25},{"p":7,"l":6,"o":14,"x":0.22,"y":3.8},{"p":7,"l":6,"o":15,"x":0.19,"y":4.6},{"p":7,"l":6,"o":16,"x":0.22,"y":5.4},
{"p":8,"l":7,"o":1,"x":0.3,"y":5.88},{"p":8,"l":7,"o":2,"x":0.44,"y":6.08},{"p":8,"l":7,"o":3,"x":0.56,"y":6.18},{"p":8,"l":7,"o":4,"x":0.64,"y":5.7},{"p":8,"l":7,"o":5,"x":0.63,"y":4.7},{"p":8,"l":7,"o":6,"x":0.585,"y":3.9},{"p":8,"l":7,"o":7,"x":0.51,"y":3.2},{"p":8,"l":7,"o":8,"x":0.46,"y":2.4},{"p":8,"l":7,"o":9,"x":0.39,"y":1.4},{"p":8,"l":7,"o":10,"x":0.31,"y":1.03},{"p":8,"l":7,"o":11,"x":0.24,"y":1.6},{"p":8,"l":7,"o":12,"x":0.185,"y":2.3},{"p":8,"l":7,"o":13,"x":0.26,"y":3.25},{"p":8,"l":7,"o":14,"x":0.245,"y":3.85},{"p":8,"l":7,"o":15,"x":0.215,"y":4.6},{"p":8,"l":7,"o":16,"x":0.245,"y":5.35},
{"p":9,"l":8,"o":1,"x":0.294,"y":5.79},{"p":9,"l":8,"o":2,"x":0.42,"y":5.97},{"p":9,"l":8,"o":3,"x":0.548,"y":6.14},{"p":9,"l":8,"o":4,"x":0.619,"y":5.7},{"p":9,"l":8,"o":5,"x":0.608,"y":4.81},{"p":9,"l":8,"o":6,"x":0.568,"y":4.03},{"p":9,"l":8,"o":7,"x":0.47,"y":3.3},{"p":9,"l":8,"o":8,"x":0.44,"y":2.46},{"p":9,"l":8,"o":9,"x":0.38,"y":1.6},{"p":9,"l":8,"o":10,"x":0.31,"y":1.2},{"p":9,"l":8,"o":11,"x":0.215,"y":2.32},{"p":9,"l":8,"o":12,"x":0.29,"y":3.25},{"p":9,"l":8,"o":13,"x":0.27,"y":3.9},{"p":9,"l":8,"o":14,"x":0.243,"y":4.62},{"p":9,"l":8,"o":15,"x":0.274,"y":5.3},
{"p":10,"l":9,"o":1,"x":0.32,"y":5.7},{"p":10,"l":9,"o":2,"x":0.55,"y":6},{"p":10,"l":9,"o":3,"x":0.595,"y":5.6},{"p":10,"l":9,"o":4,"x":0.585,"y":4.7},{"p":10,"l":9,"o":5,"x":0.53,"y":3.9},{"p":10,"l":9,"o":6,"x":0.46,"y":3.55},{"p":10,"l":9,"o":7,"x":0.29,"y":3.6},{"p":10,"l":9,"o":8,"x":0.27,"y":4.6},{"p":10,"l":9,"o":9,"x":0.29,"y":5.3},
{"p":11,"l":10,"o":1,"x":0.335,"y":5.6},{"p":11,"l":10,"o":2,"x":0.538,"y":5.84},{"p":11,"l":10,"o":3,"x":0.565,"y":5.2},{"p":11,"l":10,"o":4,"x":0.555,"y":4.42},{"p":11,"l":10,"o":5,"x":0.507,"y":3.9},{"p":11,"l":10,"o":6,"x":0.3,"y":4},{"p":11,"l":10,"o":7,"x":0.29,"y":4.62},
{"p":12,"l":11,"o":1,"x":0.31,"y":4.9},{"p":12,"l":11,"o":2,"x":0.45,"y":5.5},{"p":12,"l":11,"o":3,"x":0.54,"y":5.82},{"p":12,"l":11,"o":4,"x":0.56,"y":5.2},{"p":12,"l":11,"o":5,"x":0.56,"y":4.35},{"p":12,"l":11,"o":6,"x":0.3,"y":4.3},
{"p":13,"l":12,"o":1,"x":0.304,"y":4.66},{"p":13,"l":12,"o":2,"x":0.495,"y":4.76},{"p":13,"l":12,"o":3,"x":0.495,"y":5.7},{"p":13,"l":12,"o":4,"x":0.55,"y":5.8},{"p":13,"l":12,"o":5,"x":0.553,"y":4.52},{"p":13,"l":12,"o":6,"x":0.304,"y":4.48},
{"p":14,"l":9,"o":1,"x":0.31,"y":3.1},{"p":14,"l":9,"o":2,"x":0.41,"y":2.45},{"p":14,"l":9,"o":3,"x":0.33,"y":1.55},{"p":14,"l":9,"o":4,"x":0.25,"y":2.3},
{"p":15,"l":10,"o":1,"x":0.31,"y":2.85},{"p":15,"l":10,"o":2,"x":0.38,"y":2.4},{"p":15,"l":10,"o":3,"x":0.325,"y":1.85},{"p":15,"l":10,"o":4,"x":0.27,"y":2.3},
{"p":16,"l":11,"o":1,"x":0.315,"y":2.65},{"p":16,"l":11,"o":2,"x":0.35,"y":2.35},{"p":16,"l":11,"o":3,"x":0.32,"y":2},{"p":16,"l":11,"o":4,"x":0.29,"y":2.3},
{"p":17,"l":12,"o":1,"x":0.315,"y":2.5},{"p":17,"l":12,"o":2,"x":0.332,"y":2.3},{"p":17,"l":12,"o":3,"x":0.318,"y":2.12},{"p":17,"l":12,"o":4,"x":0.3,"y":2.3},
{"p":18,"l":4,"o":1,"x":1.07,"y":5.1},{"p":18,"l":4,"o":2,"x":1.19,"y":5.89},{"p":18,"l":4,"o":3,"x":1.22,"y":5.75},{"p":18,"l":4,"o":4,"x":1.09,"y":5.06},
{"p":19,"l":3,"o":1,"x":0.967,"y":5.45},{"p":19,"l":3,"o":2,"x":1.07,"y":5.1},{"p":19,"l":3,"o":3,"x":1.07,"y":4.2},{"p":19,"l":3,"o":4,"x":1.12,"y":3.78},{"p":19,"l":3,"o":5,"x":0.97,"y":3.83},{"p":19,"l":3,"o":6,"x":0.88,"y":4.05},{"p":19,"l":3,"o":7,"x":0.845,"y":4.66},{"p":19,"l":3,"o":8,"x":0.876,"y":5.16},
{"p":20,"l":4,"o":1,"x":0.967,"y":5.3},{"p":20,"l":4,"o":2,"x":1.05,"y":5.05},{"p":20,"l":4,"o":3,"x":1.05,"y":4.3},{"p":20,"l":4,"o":4,"x":0.97,"y":3.98},{"p":20,"l":4,"o":5,"x":0.89,"y":4.15},{"p":20,"l":4,"o":6,"x":0.86,"y":4.66},{"p":20,"l":4,"o":7,"x":0.89,"y":5.1},
{"p":21,"l":5,"o":1,"x":0.965,"y":5.1},{"p":21,"l":5,"o":2,"x":1.03,"y":4.9},{"p":21,"l":5,"o":3,"x":1.03,"y":4.4},{"p":21,"l":5,"o":4,"x":0.965,"y":4.15},{"p":21,"l":5,"o":5,"x":0.9,"y":4.3},{"p":21,"l":5,"o":6,"x":0.885,"y":4.66},{"p":21,"l":5,"o":7,"x":0.91,"y":4.95},
{"p":22,"l":6,"o":1,"x":0.965,"y":4.9},{"p":22,"l":6,"o":2,"x":1.01,"y":4.75},{"p":22,"l":6,"o":3,"x":1.01,"y":4.45},{"p":22,"l":6,"o":4,"x":0.965,"y":4.3},{"p":22,"l":6,"o":5,"x":0.925,"y":4.45},{"p":22,"l":6,"o":6,"x":0.91,"y":4.66},{"p":22,"l":6,"o":7,"x":0.925,"y":4.82},
{"p":23,"l":7,"o":1,"x":0.965,"y":4.75},{"p":23,"l":7,"o":2,"x":0.99,"y":4.65},{"p":23,"l":7,"o":3,"x":0.965,"y":4.48},{"p":23,"l":7,"o":4,"x":0.94,"y":4.62}],
"el":[{"p":"e3","o":1,"x":0.45,"y":6.65},{"p":"e3","o":2,"x":0.602,"y":6.38},{"p":"e3","o":3,"x":0.669,"y":5.4},{"p":"e3","o":4,"x":0.643,"y":4.52},{"p":"e3","o":5,"x":0.521,"y":3.64},{"p":"e3","o":6,"x":0.349,"y":3.29},{"p":"e3","o":7,"x":0.227,"y":3.64},{"p":"e3","o":8,"x":0.166,"y":4.72},{"p":"e3","o":9,"x":0.187,"y":5.6},{"p":"e3","o":10,"x":0.288,"y":6.33},
{"p":"e2","o":1,"x":1.093,"y":6.04},{"p":"e2","o":2,"x":1.312,"y":5.65},{"p":"e2","o":3,"x":1.398,"y":4.76},{"p":"e2","o":4,"x":1.312,"y":3.93},{"p":"e2","o":5,"x":1.099,"y":3.49},{"p":"e2","o":6,"x":0.886,"y":3.74},{"p":"e2","o":7,"x":0.795,"y":4.76},{"p":"e2","o":8,"x":0.876,"y":5.55},
{"p":"e5","o":1,"x":0.318,"y":3.64},{"p":"e5","o":2,"x":0.45,"y":3.25},{"p":"e5","o":3,"x":0.505,"y":2.26},{"p":"e5","o":4,"x":0.46,"y":1.19},{"p":"e5","o":5,"x":0.318,"y":0.48},{"p":"e5","o":6,"x":0.187,"y":0.84},{"p":"e5","o":7,"x":0.112,"y":2.17},{"p":"e5","o":8,"x":0.176,"y":3.25}]
},
"concat":[
{"width":241,"height":353,
"encoding":{"x":{"field":"x","type":"quantitative","scale":{"domain":[0,90],"range":[58,299],"nice":false,"zero":false},"axis":{"title":null,"values":[0,20,40,60,80],"labelExpr":"datum.value==0?'':datum.label","labelPadding":5,"offset":-92}},"y":{"field":"y","type":"quantitative","scale":{"domain":[0,7],"range":[261,79],"nice":false,"zero":false},"axis":{"title":null,"values":[2,4,6],"labelPadding":5,"offset":-58}}},
"layer":[
{"data":{"name":"pa"},"mark":{"type":"point","filled":true,"size":3,"color":"#c08080","opacity":0.6}},
{"data":{"name":"p3"},"transform":[{"filter":"datum.x<40"}],"mark":{"type":"point","filled":true,"size":3,"color":"#d05050","opacity":0.5}},
{"data":{"name":"p5"},"transform":[{"filter":"datum.x<40"}],"mark":{"type":"point","filled":true,"size":3,"color":"#60a060","opacity":0.5}},
{"data":{"name":"p2"},"transform":[{"filter":"datum.x<40"}],"mark":{"type":"point","filled":true,"size":3,"color":"#6060d0","opacity":0.5}},
{"data":{"name":"r"},"mark":{"type":"line","opacity":0.7,"strokeWidth":1.2},"encoding":{"color":{"field":"c","type":"nominal","legend":null,"scale":{"range":["#2a2ac0","#c02030","#2a9a3a","#e8a000","#7a2a8a","#f0d020","#3050d0","#e05040","#50a030","#a05020"]}}}},
{"data":{"name":"d2"},"mark":{"type":"line","opacity":0.7,"strokeWidth":1.2},"encoding":{"color":{"field":"c","type":"nominal","legend":null}}},
{"data":{"name":"d3"},"mark":{"type":"line","opacity":0.7,"strokeWidth":1.2},"encoding":{"color":{"field":"c","type":"nominal","legend":null}}},
{"data":{"name":"d5"},"mark":{"type":"line","opacity":0.7,"strokeWidth":1.2},"encoding":{"color":{"field":"c","type":"nominal","legend":null}}},
{"data":{"values":[{"x":0,"x2":90,"y":0,"y2":7}]},"mark":{"type":"rect","fill":"transparent","stroke":"#111","strokeWidth":2},"encoding":{"x2":{"field":"x2"},"y2":{"field":"y2"}}},
{"data":{"values":[{"x":0,"y":9.77,"t":"Contact"},{"x":0,"y":9.23,"t":"Point"},{"x":22,"y":9.77,"t":"Breaking"},{"x":22,"y":9.23,"t":"Point"},{"x":88.8,"y":9.77,"t":"Contact With"},{"x":88.8,"y":9.23,"t":"Substrate"},{"x":51.5,"y":7.92,"t":"Pushing Direction"}]},"mark":{"type":"text","fontSize":13,"baseline":"middle"},"encoding":{"text":{"field":"t"}}},
{"data":{"values":[{"x":0,"y":8.73,"y2":7.9},{"x":20.9,"y":8.73,"y2":7.9},{"x":89.2,"y":8.73,"y2":7.9}]},"mark":{"type":"rule","strokeWidth":1.6,"color":"#222"},"encoding":{"y2":{"field":"y2"}}},
{"data":{"values":[{"x":0,"y":8.0},{"x":20.9,"y":8.0},{"x":89.2,"y":8.0}]},"mark":{"type":"point","shape":"triangle-down","filled":true,"size":70,"color":"#222","opacity":1}},
{"data":{"values":[{"x":-0.4,"x2":88,"y":7.46}]},"mark":{"type":"rule","strokeWidth":1.6,"color":"#222"},"encoding":{"x2":{"field":"x2"}}},
{"data":{"values":[{"x":88.6,"y":7.46}]},"mark":{"type":"point","shape":"triangle-right","filled":true,"size":70,"color":"#222","opacity":1}},
{"data":{"values":[{"x":-32,"y":9.6,"t":"a)"}]},"mark":{"type":"text","fontSize":20,"fontWeight":"bold","baseline":"middle"},"encoding":{"text":{"field":"t"}}},
{"data":{"values":[{"x":-4.9,"y":-0.54,"t":"0"}]},"mark":{"type":"text","fontSize":11,"fontWeight":"bold","baseline":"middle"},"encoding":{"text":{"field":"t"}}},
{"data":{"values":[{"x":58.2,"y":-1.35,"t":"Virus Indentation"}]},"mark":{"type":"text","fontSize":12.8,"fontWeight":"bold","fontStyle":"italic","align":"right","baseline":"middle"},"encoding":{"text":{"field":"t"}}},
{"data":{"values":[{"x":59,"y":-1.35,"t":"(nm)"}]},"mark":{"type":"text","fontSize":12.8,"fontWeight":"bold","align":"left","baseline":"middle"},"encoding":{"text":{"field":"t"}}},
{"data":{"values":[{"x":-11.2,"y":3.27,"t":"F"}]},"mark":{"type":"text","fontSize":12.5,"fontWeight":"bold","fontStyle":"italic","angle":270,"baseline":"middle"},"encoding":{"text":{"field":"t"}}},
{"data":{"values":[{"x":-11.2,"y":4.1,"t":"(nN)"}]},"mark":{"type":"text","fontSize":12.5,"fontWeight":"bold","angle":270,"baseline":"middle"},"encoding":{"text":{"field":"t"}}}
]},
{"width":245,"height":353,
"encoding":{"x":{"field":"x","type":"quantitative","scale":{"domain":[0,1.6],"range":[172,435],"nice":false,"zero":false},"axis":{"title":null,"values":[0,0.4,0.8,1.2,1.6],"format":".1f","labelExpr":"datum.value==0?'':datum.label","domain":true,"domainWidth":2.5,"domainColor":"#111","tickSize":5,"tickWidth":2,"labelFontSize":10.5,"offset":-86}},"y":{"field":"y","type":"quantitative","scale":{"domain":[0,6.91],"range":[267,32],"nice":false,"zero":false},"axis":{"title":null,"values":[2,4,6],"domain":true,"domainWidth":2.5,"domainColor":"#111","tickSize":5,"tickWidth":2,"labelFontSize":10.5,"offset":-172}}},
"layer":[
{"data":{"values":[{"x":0,"x2":1.6,"y":0,"y2":6.91}]},"mark":{"type":"rect","fill":"#00007c"},"encoding":{"x2":{"field":"x2"},"y2":{"field":"y2"}}},
{"data":{"name":"ct"},"mark":{"type":"line","filled":true,"interpolate":"cardinal-closed","tension":0.6,"strokeWidth":0},"encoding":{"detail":{"field":"p"},"order":{"field":"o"},"color":{"field":"l","type":"ordinal","scale":{"domain":[0,1,2,3,4,5,6,7,8,9,10,11,12],"range":["#14006e","#0000a8","#0000e0","#0030e8","#0a5aa0","#10a040","#48c010","#b0e000","#fff000","#ffc800","#ff9810","#ff7400","#f03c10"]},"legend":{"orient":"none","legendX":357,"legendY":157,"title":null,"values":[0,2,4,6,8,10,12],"fillColor":"white","padding":4,"symbolType":"M-1,-0.25H1V0.25H-1Z","symbolSize":900,"symbolStrokeColor":"#333","symbolStrokeWidth":0.6,"clipHeight":13.4,"rowPadding":0,"labelFont":"Liberation Sans","labelFontWeight":"bold","labelFontSize":11,"labelColor":"#111","labelOffset":7}}}},
{"data":{"name":"el"},"mark":{"type":"line","color":"white","strokeWidth":4,"strokeDash":[4,4],"interpolate":"cardinal-closed","tension":0.2},"encoding":{"detail":{"field":"p"},"order":{"field":"o"}}},
{"data":{"values":[{"x":0.82,"y":6.3,"t":"3-fold"},{"x":1.43,"y":6.19,"t":"2-fold"},{"x":0.633,"y":0.745,"t":"5-fold"}]},"mark":{"type":"text","fontSize":15,"fontWeight":"bold","color":"white","baseline":"middle"},"encoding":{"text":{"field":"t"}}},
{"data":{"values":[{"x":-0.268,"y":7.5,"t":"b)"}]},"mark":{"type":"text","fontSize":20,"fontWeight":"bold","baseline":"middle"},"encoding":{"text":{"field":"t"}}},
{"data":{"values":[{"x":-0.036,"y":-0.44,"t":"0"}]},"mark":{"type":"text","fontSize":10.5,"fontWeight":"bold","baseline":"middle"},"encoding":{"text":{"field":"t"}}},
{"data":{"values":[{"x":0.687,"y":-0.91,"t":"k"}]},"mark":{"type":"text","fontSize":11.5,"fontWeight":"bold","fontStyle":"italic","baseline":"middle"},"encoding":{"text":{"field":"t"}}},
{"data":{"values":[{"x":0.827,"y":-0.91,"t":"(N/m)"}]},"mark":{"type":"text","fontSize":11.5,"fontWeight":"bold","baseline":"middle"},"encoding":{"text":{"field":"t"}}},
{"data":{"values":[{"x":-0.207,"y":3.15,"t":"F"}]},"mark":{"type":"text","fontSize":12,"fontWeight":"bold","fontStyle":"italic","angle":270,"baseline":"middle"},"encoding":{"text":{"field":"t"}}},
{"data":{"values":[{"x":-0.19,"y":3.47,"t":"break"}]},"mark":{"type":"text","fontSize":7,"fontWeight":"bold","fontStyle":"italic","angle":270,"baseline":"middle"},"encoding":{"text":{"field":"t"}}},
{"data":{"values":[{"x":-0.207,"y":4.12,"t":"(nN)"}]},"mark":{"type":"text","fontSize":12,"fontWeight":"bold","angle":270,"baseline":"middle"},"encoding":{"text":{"field":"t"}}}
]},
{"width":224,"height":353,"data":{"values":[{}]},"mark":{"type":"point","opacity":0},"encoding":{}},
{"width":241,"height":169,
"encoding":{"x":{"field":"x","type":"quantitative","scale":{"domain":[0,50],"range":[0,223],"nice":false,"zero":false},"axis":{"title":null,"values":[0,10,20,30,40],"labelExpr":"datum.value==0?'':datum.label","labelPadding":6}},"y":{"field":"y","type":"quantitative","scale":{"domain":[0,7],"nice":false,"zero":false},"axis":{"title":null,"values":[2,4,6],"labelPadding":6}}},
"layer":[
{"data":{"name":"p2"},"mark":{"type":"point","filled":true,"size":3,"color":"#5050d8","opacity":0.5}},
{"data":{"name":"d2"},"mark":{"type":"line","color":"#3434dc","opacity":0.55,"strokeWidth":1},"encoding":{"detail":{"field":"c"}}},
{"data":{"values":[{"x":0,"x2":50,"y":0,"y2":7}]},"mark":{"type":"rect","fill":"transparent","stroke":"#111","strokeWidth":2},"encoding":{"x2":{"field":"x2"},"y2":{"field":"y2"}}},
{"data":{"values":[{"x":24.9,"y":7.41,"t":"2-fold"}]},"mark":{"type":"text","fontSize":15,"fontWeight":"bold","baseline":"middle"},"encoding":{"text":{"field":"t"}}},
{"data":{"values":[{"x":-6.5,"y":7.33,"t":"c)"}]},"mark":{"type":"text","fontSize":20,"fontWeight":"bold","baseline":"middle"},"encoding":{"text":{"field":"t"}}},
{"data":{"values":[{"x":-2.7,"y":-0.62,"t":"0"}]},"mark":{"type":"text","fontSize":11,"fontWeight":"bold","baseline":"middle"},"encoding":{"text":{"field":"t"}}},
{"data":{"values":[{"x":32,"y":-1.41,"t":"Virus Indentation"}]},"mark":{"type":"text","fontSize":12.8,"fontWeight":"bold","fontStyle":"italic","align":"right","baseline":"middle"},"encoding":{"text":{"field":"t"}}},
{"data":{"values":[{"x":32.5,"y":-1.41,"t":"(nm)"}]},"mark":{"type":"text","fontSize":12.8,"fontWeight":"bold","align":"left","baseline":"middle"},"encoding":{"text":{"field":"t"}}},
{"data":{"values":[{"x":-6.7,"y":3.4,"t":"F"}]},"mark":{"type":"text","fontSize":12.5,"fontWeight":"bold","fontStyle":"italic","angle":270,"baseline":"middle"},"encoding":{"text":{"field":"t"}}},
{"data":{"values":[{"x":-6.7,"y":4.18,"t":"(nN)"}]},"mark":{"type":"text","fontSize":12.5,"fontWeight":"bold","angle":270,"baseline":"middle"},"encoding":{"text":{"field":"t"}}}
]},
{"width":245,"height":169,
"encoding":{"x":{"field":"x","type":"quantitative","scale":{"domain":[0,50],"range":[0,223],"nice":false,"zero":false},"axis":{"title":null,"values":[10,20,30,40],"labelPadding":6}},"y":{"field":"y","type":"quantitative","scale":{"domain":[0,7],"nice":false,"zero":false},"axis":{"title":null,"values":[2,4,6],"labels":false}}},
"layer":[
{"data":{"name":"p3"},"mark":{"type":"point","filled":true,"size":3,"color":"#e85060","opacity":0.5}},
{"data":{"name":"d3"},"mark":{"type":"line","color":"#e8202c","opacity":0.55,"strokeWidth":1},"encoding":{"detail":{"field":"c"}}},
{"data":{"values":[{"x":0,"x2":50,"y":0,"y2":7}]},"mark":{"type":"rect","fill":"transparent","stroke":"#111","strokeWidth":2},"encoding":{"x2":{"field":"x2"},"y2":{"field":"y2"}}},
{"data":{"values":[{"x":25.3,"y":7.41,"t":"3-fold"}]},"mark":{"type":"text","fontSize":15,"fontWeight":"bold","baseline":"middle"},"encoding":{"text":{"field":"t"}}},
{"data":{"values":[{"x":32.3,"y":-1.41,"t":"Virus Indentation"}]},"mark":{"type":"text","fontSize":12.8,"fontWeight":"bold","fontStyle":"italic","align":"right","baseline":"middle"},"encoding":{"text":{"field":"t"}}},
{"data":{"values":[{"x":32.8,"y":-1.41,"t":"(nm)"}]},"mark":{"type":"text","fontSize":12.8,"fontWeight":"bold","align":"left","baseline":"middle"},"encoding":{"text":{"field":"t"}}}
]},
{"width":224,"height":169,
"encoding":{"x":{"field":"x","type":"quantitative","scale":{"domain":[0,50],"nice":false,"zero":false},"axis":{"title":null,"values":[10,20,30,40],"labelPadding":5}},"y":{"field":"y","type":"quantitative","scale":{"domain":[0,7],"nice":false,"zero":false},"axis":{"title":null,"values":[2,4,6],"labels":false}}},
"layer":[
{"data":{"name":"p5"},"mark":{"type":"point","filled":true,"size":3,"color":"#50a050","opacity":0.5}},
{"data":{"name":"d5"},"mark":{"type":"line","color":"#2a8c32","opacity":0.55,"strokeWidth":1},"encoding":{"detail":{"field":"c"}}},
{"data":{"name":"d5b"},"mark":{"type":"line","color":"#2a8c32","opacity":0.5,"strokeWidth":1,"strokeDash":[1.5,1.5]},"encoding":{"detail":{"field":"c"}}},
{"data":{"values":[{"x":0,"x2":50,"y":0,"y2":7}]},"mark":{"type":"rect","fill":"transparent","stroke":"#111","strokeWidth":2},"encoding":{"x2":{"field":"x2"},"y2":{"field":"y2"}}},
{"data":{"values":[{"x":22.5,"y":7.41,"t":"5-fold"}]},"mark":{"type":"text","fontSize":15,"fontWeight":"bold","baseline":"middle"},"encoding":{"text":{"field":"t"}}},
{"data":{"values":[{"x":32.6,"y":-1.28,"t":"Virus Indentation"}]},"mark":{"type":"text","fontSize":12.8,"fontWeight":"bold","fontStyle":"italic","align":"right","baseline":"middle"},"encoding":{"text":{"field":"t"}}},
{"data":{"values":[{"x":33.1,"y":-1.28,"t":"(nm)"}]},"mark":{"type":"text","fontSize":12.8,"fontWeight":"bold","align":"left","baseline":"middle"},"encoding":{"text":{"field":"t"}}}
]}
]}
